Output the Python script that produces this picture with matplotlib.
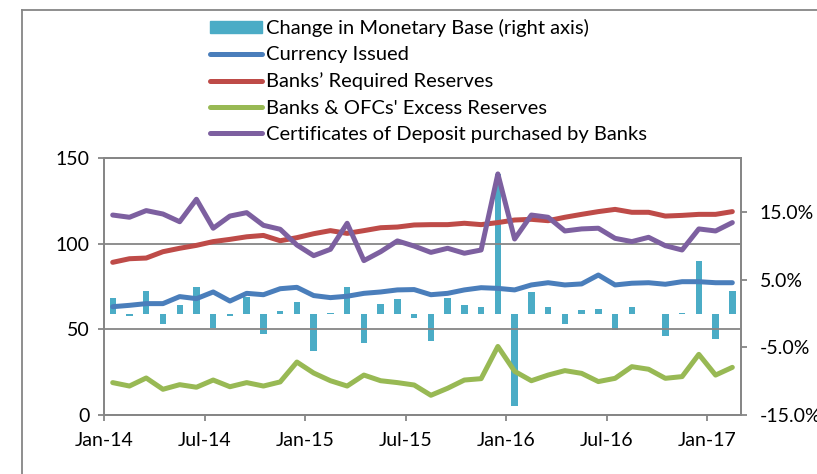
import numpy as np
import matplotlib
matplotlib.use('Agg')
import matplotlib.pyplot as plt
from matplotlib.lines import Line2D
from matplotlib.patches import Patch

plt.rcParams['font.family'] = ['Lato', 'DejaVu Sans']

# monthly data, Jan-14 .. Feb-17
currency_issued = [63.2, 64.0, 65.0, 65.0, 69.1, 67.9, 71.8, 66.5, 71.0, 70.2, 73.7, 74.5,
                   69.7, 68.5, 69.3, 71.0, 71.8, 73.0, 73.2, 70.2, 71.0, 73.0, 74.3, 73.9,
                   73.0, 75.9, 77.2, 75.9, 76.5, 81.7, 75.9, 76.9, 77.2, 76.3, 77.8, 77.8,
                   77.2, 77.2]
required_reserves = [89.1, 91.2, 91.6, 95.3, 97.3, 99.0, 101.2, 102.5, 104.0, 104.8, 101.7, 103.5,
                     105.8, 107.6, 106.0, 107.6, 109.3, 109.7, 110.9, 111.1, 111.1, 111.9, 111.1, 112.3,
                     113.8, 114.2, 113.4, 115.4, 117.1, 118.7, 120.0, 118.3, 118.3, 116.1, 116.5, 117.1,
                     117.1, 118.7]
excess_reserves = [18.9, 16.9, 21.6, 15.0, 17.7, 16.2, 20.4, 16.5, 18.9, 16.9, 19.3, 30.9,
                   24.5, 20.0, 16.9, 23.3, 20.0, 18.9, 17.5, 11.5, 15.6, 20.4, 21.2, 40.0,
                   25.5, 20.0, 23.3, 25.9, 24.3, 19.5, 21.4, 28.2, 26.7, 21.4, 22.4, 35.4,
                   23.3, 27.8]
cds_by_banks = [116.7, 115.4, 119.3, 117.3, 112.8, 125.9, 109.0, 116.1, 118.1, 110.7, 108.4, 99.2,
                93.0, 96.7, 111.9, 90.1, 95.3, 101.6, 98.6, 94.9, 97.3, 94.4, 96.3, 140.7,
                102.7, 116.7, 115.4, 107.4, 108.6, 109.0, 103.1, 101.2, 103.7, 98.8, 96.3, 108.6,
                107.4, 112.3]
base_change = [2.3, -0.3, 3.4, -1.6, 1.2, 3.9, -2.2, -0.4, 2.5, -3.05, 0.4, 1.7,
               -5.5, 0.1, 3.9, -4.3, 1.4, 2.2, -0.7, -4.0, 2.3, 1.3, 1.0, 20.7,
               -13.6, 3.2, 1.0, -1.6, 0.5, 0.6, -2.4, 1.0, 0.0, -3.3, 0.1, 7.7,
               -3.8, 3.3]
tick_labels = ['Jan-14', 'Jul-14', 'Jan-15', 'Jul-15', 'Jan-16', 'Jul-16', 'Jan-17']

c_bar = '#4BACC6'
c_blue = '#4A7EBB'
c_red = '#BE4B48'
c_green = '#98B954'
c_purple = '#7D60A0'
c_axis = '#868686'

n = len(currency_issued)
x = np.arange(n) + 0.5

fig = plt.figure(figsize=(8.17, 4.74), dpi=100)
ax = fig.add_axes([0.1277, 0.1245, 0.7789, 0.5422])
ax2 = ax.twinx()
ax.set_zorder(ax2.get_zorder() + 1)
ax.patch.set_visible(False)

ax2.bar(x, base_change, width=0.38, color=c_bar)

lw = 3.6
for vals, col in [(currency_issued, c_blue), (required_reserves, c_red),
                  (excess_reserves, c_green), (cds_by_banks, c_purple)]:
    ax.plot(x, vals, color=col, lw=lw, solid_joinstyle='round', solid_capstyle='round')

ax.set_xlim(0, n)
ax.set_ylim(0, 150)
ax.set_yticks([0, 50, 100, 150])
ax.yaxis.grid(True, color=c_axis, lw=1.3)
ax.set_xticks(np.arange(0, n, 6))
ax.set_xticklabels(tick_labels)

ax2.set_ylim(-15, 23)
ax2.set_yticks([-15, -5, 5, 15])
ax2.set_yticklabels(['%.1f%%' % v for v in [-15, -5, 5, 15]])

for a in (ax, ax2):
    for s in a.spines.values():
        s.set_color(c_axis)
        s.set_linewidth(1.3)
    a.tick_params(colors=c_axis, labelcolor='black', labelsize=14, length=4.5, width=1.3)
ax.tick_params(axis='y', pad=6)
ax2.tick_params(axis='y', pad=9)
ax.tick_params(axis='x', pad=8)

# outer frame of the chart (cropped at right and bottom)
fig.add_artist(Line2D([22 / 817, 1], [1 - 10 / 474] * 2, color=c_axis, lw=1.3))
fig.add_artist(Line2D([22 / 817] * 2, [0, 1 - 10 / 474], color=c_axis, lw=1.3))

handles = [Patch(color=c_bar),
           Line2D([], [], color=c_blue, lw=lw, solid_capstyle='round'),
           Line2D([], [], color=c_red, lw=lw, solid_capstyle='round'),
           Line2D([], [], color=c_green, lw=lw, solid_capstyle='round'),
           Line2D([], [], color=c_purple, lw=lw, solid_capstyle='round')]
labels = ['Change in Monetary Base (right axis)', 'Currency Issued', 'Banks\u2019 Required Reserves',
          "Banks & OFCs' Excess Reserves", 'Certificates of Deposit purchased by Banks']
fig.legend(handles, labels, loc='upper left', bbox_to_anchor=(210 / 817, 1 - 19 / 474),
           frameon=False, fontsize=14.5, handlelength=2.6, handleheight=0.6,
           handletextpad=0.2, labelspacing=0.46, borderpad=0, borderaxespad=0)

fig.savefig('out.png', dpi=100)
